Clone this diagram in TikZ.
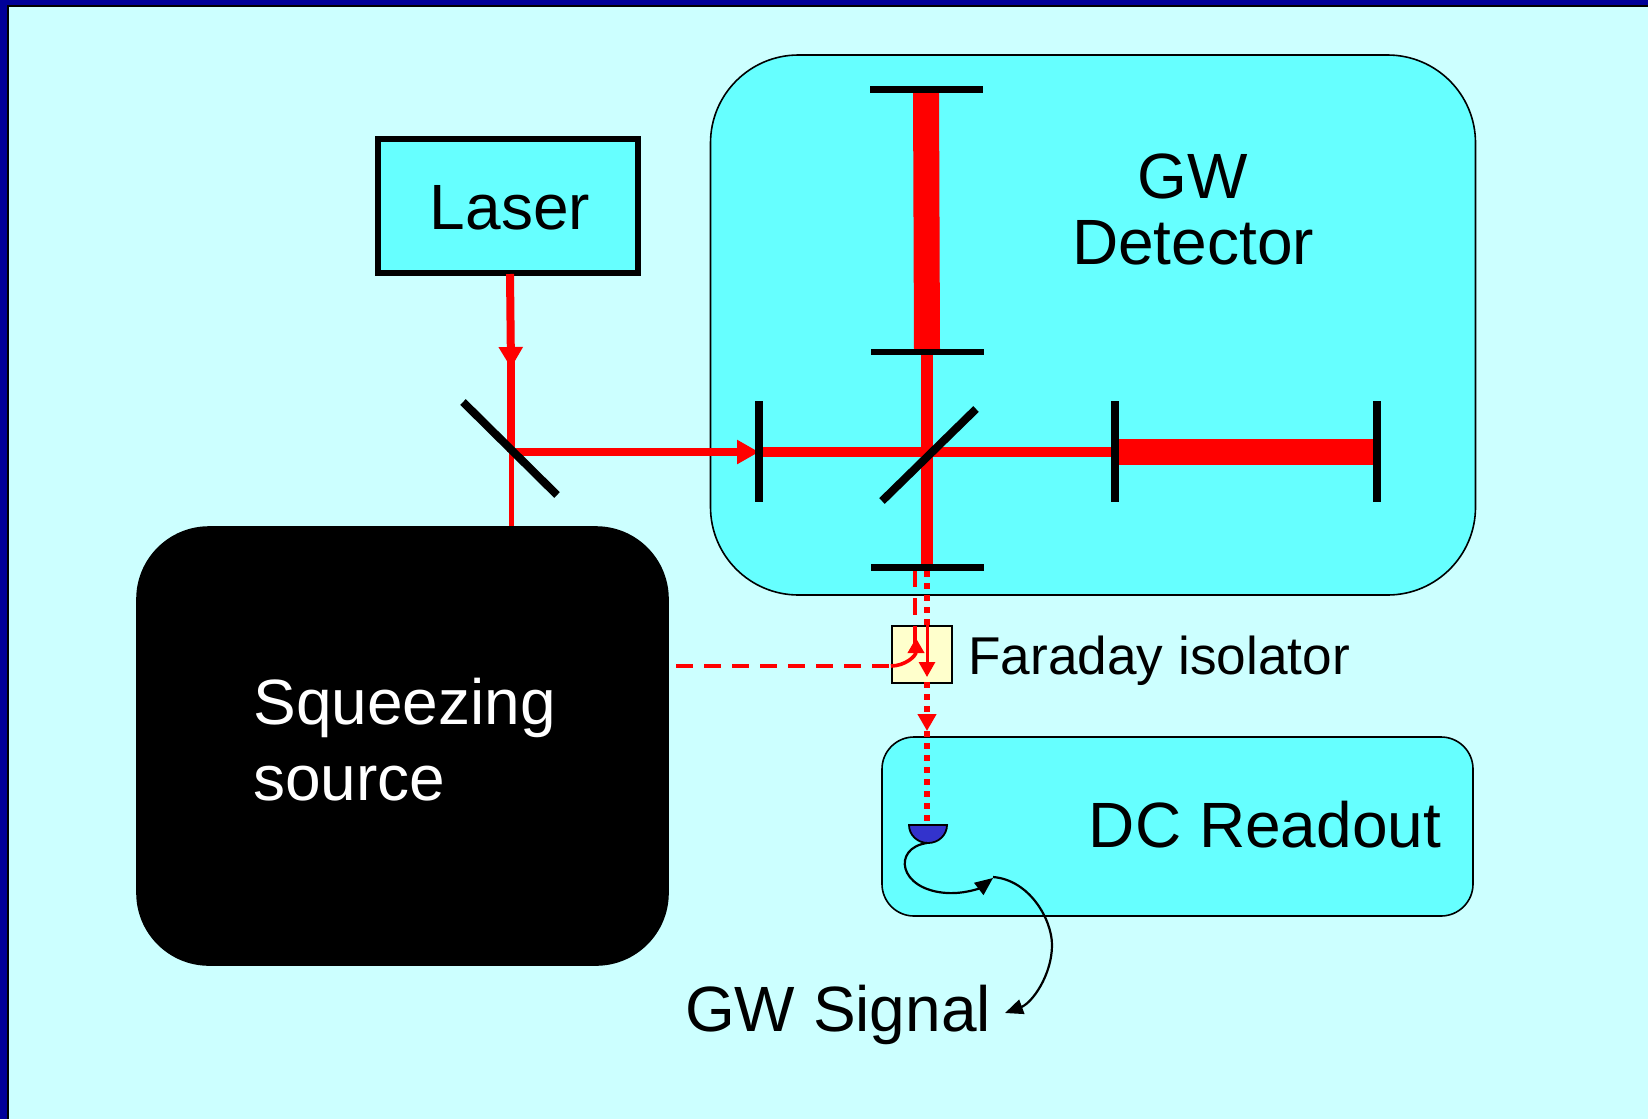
\documentclass[tikz,border=0pt]{standalone}
\usepackage{fontspec}
\setmainfont{Liberation Sans}
\usetikzlibrary{arrows.meta}

\definecolor{slidebg}{HTML}{CCFFFF}
\definecolor{boxbg}{HTML}{66FFFF}
\definecolor{slidenavy}{HTML}{000099}
\definecolor{isolbg}{HTML}{FFFFCC}
\definecolor{diodeblue}{HTML}{3333CC}

\tikzset{
  bigtext/.style={font=\fontsize{32}{33}\selectfont, inner sep=0pt},
  roundbox/.style={draw, line width=0.8pt, fill=boxbg, inner sep=0pt},
  mirror/.style={line width=4pt},
  smallmirror/.style={line width=3.2pt},
  beam/.style={red, line width=4pt},
  beamtip/.style={-{Triangle[length=10.5pt, width=11.5pt]}},
  innertip/.style={-{Triangle[length=7.5pt, width=8pt]}},
  dottip/.style={-{Triangle[length=8.5pt, width=9pt]}},
  wiretip/.style={-{Triangle[length=9pt, width=7.5pt]}},
  dashbeam/.style={red, line width=1.8pt, dash pattern=on 8.5pt off 5.5pt},
  dotbeam/.style={red, line width=3pt, dash pattern=on 3.2pt off 2.8pt},
}

\begin{document}
\begin{tikzpicture}[x=0.5pt, y=-0.5pt]
  \useasboundingbox (0,0) rectangle (1648,1119);
  % slide background
  \fill[slidenavy] (0,0) rectangle (1648,1119);
  \fill[black] (7,5) rectangle (1648,1119);
  \fill[slidebg] (9,7) rectangle (1648,1119);

  % boxes
  \node[roundbox, rounded corners=44pt, minimum width=382.5pt, minimum height=270pt] (detector) at (1093,325) {};
  \node[roundbox, rounded corners=16pt, minimum width=295.5pt, minimum height=89.5pt] (readout) at (1177.5,826.5) {};
  \node[roundbox, draw=black, fill=black, rounded corners=36pt, minimum width=265.5pt, minimum height=219pt] (squeezer) at (402.5,746) {};
  \node[roundbox, line width=3pt, minimum width=130pt, minimum height=67pt] (laser) at (508,205.5) {};

  % beam points
  \coordinate (laserout) at (510,274);
  \coordinate (inputbs) at (511,452);
  \coordinate (squeezerin) at (511,526);
  \coordinate (recmirror) at (759,452);
  \coordinate (itmx) at (1115,452);
  \coordinate (etmx) at (1377,452);
  \coordinate (itmy) at (927,352);
  \coordinate (etmy) at (926,89);
  \coordinate (srmirror) at (927,567);
  \coordinate (dashtop) at (915,570);
  \coordinate (dashbend) at (915,650);
  \coordinate (dashend) at (676,666);
  \coordinate (dotend) at (927,822);
  \coordinate (wirestart) at (927,843);
  \coordinate (wiremid) at (993,877);
  \coordinate (wireend) at (1005,1013);

  % Faraday isolator
  \node[draw, line width=1.2pt, fill=isolbg, inner sep=0pt, minimum width=30pt, minimum height=28.5pt] (isolator) at (922,654.5) {};

  % beams
  \draw[beam, line width=2.5pt] (inputbs) -- (squeezerin);
  \draw[beam, beamtip] (laserout) -- (511,368);
  \draw[beam] (511,360) -- (inputbs);
  \draw[beam, -{Triangle[length=11pt, width=11.5pt]}] (inputbs) -- (recmirror);
  \draw[beam, line width=5pt] (recmirror) -- (itmx);
  \draw[beam, line width=13pt] (itmx) -- (etmx);
  \draw[beam, line width=6pt] (itmy) -- (srmirror);
  \draw[beam, line width=13pt] (itmy) -- (etmy);

  % dashed and dotted paths at the dark port
  \draw[dashbeam] (dashend) -- (isolator.west |- dashend);
  \draw[dashbeam] (dashtop) -- (915,626);
  \draw[beam, line width=1.8pt] (915,626) -- (dashbend);
  \draw[beam, line width=1.8pt, innertip] (isolator.west |- dashend) .. controls (905,666) and (916,656) .. (916,638);
  \draw[dotbeam] (927,571) -- (927,625);
  \draw[beam, line width=1.5pt, innertip] (927,625) -- (927,677);
  \draw[dotbeam, dottip] (927,682) -- (927,731);
  \draw[dotbeam] (927,731) -- (dotend);

  % mirrors
  \draw[mirror] (463,402) -- (557,495);
  \draw[mirror] (882,501) -- (976,409);
  \draw[mirror] (759,401) -- (759,502);
  \draw[mirror] (1115,401) -- (1115,502);
  \draw[mirror] (1377,401) -- (1377,502);
  \draw[smallmirror] (870,89.5) -- (983,89.5);
  \draw[smallmirror] (871,352) -- (984,352);
  \draw[smallmirror] (871,567.5) -- (984,567.5);

  % photodiode
  \draw[line width=0.9pt, fill=diodeblue] (909,825) arc[start angle=180, end angle=360, x radius=19, y radius=-18] -- cycle;
  \draw[line width=1.4pt] (909,825) -- (947,825);

  % signal wires
  \draw[line width=1.1pt, wiretip] (wirestart) .. controls (892,848) and (898,890) .. (947,893) .. controls (965,894) and (980,888) .. (993,878);
  \draw[line width=1.1pt, wiretip] (wiremid) .. controls (1030,880) and (1052,920) .. (1052,945) .. controls (1052,975) and (1032,1003) .. (wireend);

  % labels
  \node[bigtext] (laserlabel) at (510,208) {Laser};
  \node[bigtext, align=center] (detectorlabel) at (1193,209) {GW\\Detector};
  \node[bigtext, align=left, font=\fontsize{32}{38}\selectfont, anchor=west] (squeezerlabel) at (253,740) {\textcolor{white}{Squeezing}\\\textcolor{white}{source}};
  \node[bigtext, font=\fontsize{26.6}{30}\selectfont, anchor=base west] (isolatorlabel) at (968,674) {Faraday isolator};
  \node[bigtext, anchor=base] (readoutlabel) at (1265,847) {DC Readout};
  \node[bigtext, anchor=base] (signallabel) at (838,1031) {GW Signal};
\end{tikzpicture}
\end{document}
